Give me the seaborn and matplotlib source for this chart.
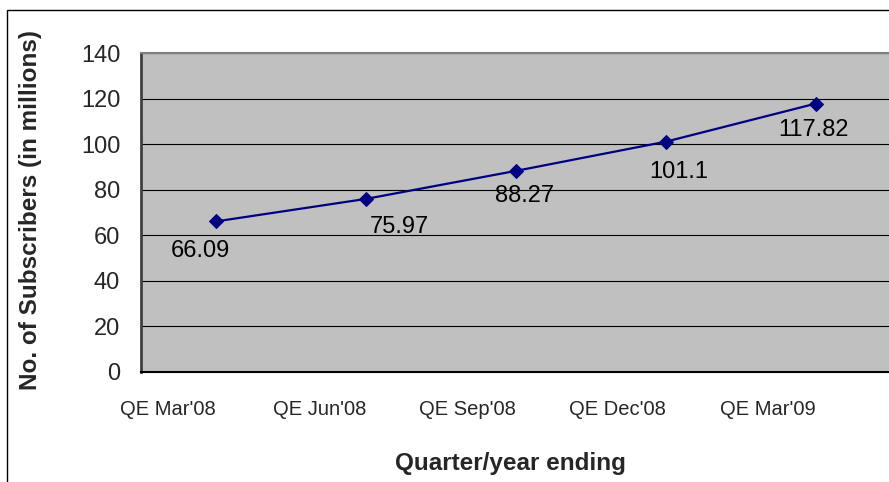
import pandas as pd
import matplotlib.pyplot as plt
import seaborn as sns
from matplotlib.patches import Rectangle

# data
quarters = ["QE Mar'08", "QE Jun'08", "QE Sep'08", "QE Dec'08", "QE Mar'09"]
subscribers = [66.09, 75.97, 88.27, 101.1, 117.82]
value_labels = ["66.09", "75.97", "88.27", "101.1", "117.82"]
y_ticks = [0, 20, 40, 60, 80, 100, 120, 140]

# label offsets (points) below each marker
label_offsets = [(-11, -21), (24, -20), (6, -18), (9, -22), (-2, -19)]

df = pd.DataFrame({"pos": range(len(quarters)), "subs": subscribers})

sns.set_style("white")
plt.rcParams["font.family"] = ["Liberation Sans", "DejaVu Sans"]

fig = plt.figure(figsize=(8.89, 4.82), dpi=100)
ax = fig.add_axes([141 / 889, 1 - 372 / 482, 750 / 889, 319 / 482])
ax.set_facecolor("#C0C0C0")

sns.lineplot(data=df, x="pos", y="subs", ax=ax, color="#000080", lw=1.6,
             marker="D", markersize=7, markeredgecolor="#000080")

for i, (v, txt) in enumerate(zip(subscribers, value_labels)):
    ax.annotate(txt, (i, v), xytext=label_offsets[i], textcoords="offset points",
                ha="center", va="center", fontsize=17, color="black")

# axes
ax.set_xlim(-0.5, len(quarters) - 0.5)
ax.set_ylim(0, 140)
ax.set_yticks(y_ticks)
ax.tick_params(axis="y", length=5, width=1, color="black", labelsize=17, pad=10)
ax.set_xticks(range(len(quarters)))
ax.set_xticklabels(quarters, ha="right")
ax.set_xticks([i - 0.5 for i in range(len(quarters))], minor=True)
ax.tick_params(axis="x", which="major", length=0, labelsize=14.5, pad=20)
ax.tick_params(axis="x", which="minor", length=5, width=1, color="black")

ax.grid(axis="y", color="black", lw=0.8)
ax.set_axisbelow(True)
ax.spines["top"].set_color("#808080")
ax.spines["top"].set_linewidth(1.5)
ax.spines["left"].set_color("#404040")
ax.spines["left"].set_linewidth(2)
ax.spines["bottom"].set_color("black")
ax.spines["bottom"].set_linewidth(1.5)
ax.spines["right"].set_visible(False)

ax.set_xlabel("Quarter/year ending", fontsize=17.5, fontweight="bold", va="center")
ax.xaxis.set_label_coords(0.493, -0.288)
ax.set_ylabel("No. of Subscribers (in millions)", fontsize=17.5, fontweight="bold", va="center")
ax.yaxis.set_label_coords(-0.148, 0.508)

# chart border
fig.patches.append(Rectangle((7 / 889, -0.1), 1.2, 1.1 - 10 / 482,
                             transform=fig.transFigure, fill=False,
                             edgecolor="black", lw=1))

fig.savefig("out.png", dpi=100)
